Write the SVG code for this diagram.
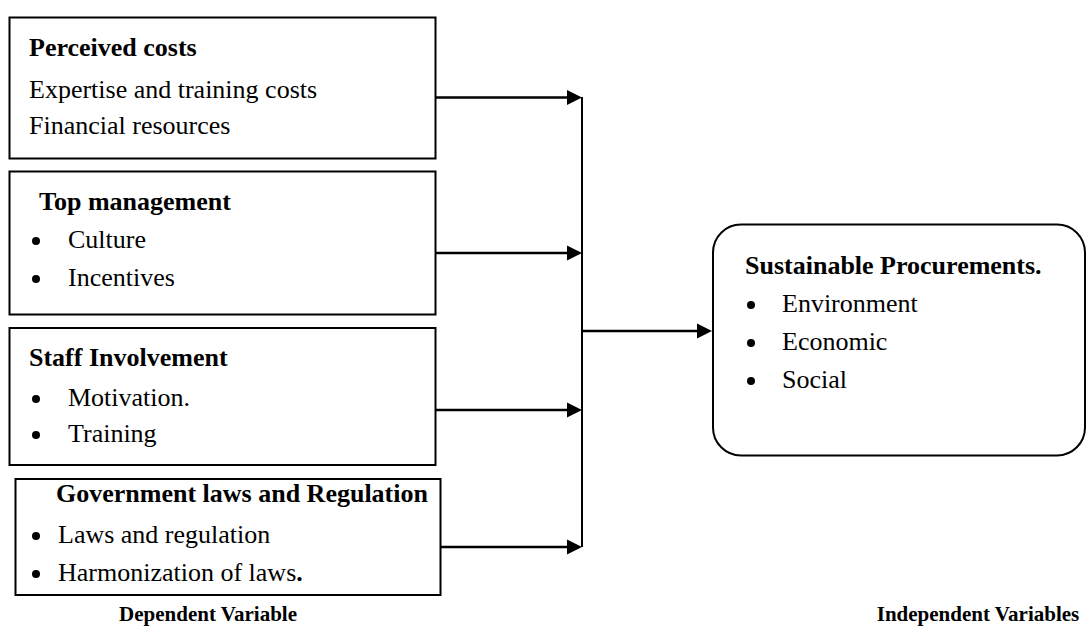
<svg xmlns="http://www.w3.org/2000/svg" width="1087" height="631" viewBox="0 0 1087 631">
<defs>
<style>
.box{fill:#fff;stroke:#000;stroke-width:2}
.t{font-family:"Liberation Serif","Times New Roman",serif;font-size:26px;fill:#000}
.b{font-weight:bold}
.ln{stroke:#000;stroke-width:2.5;fill:none}
.lbl{font-size:21px}
</style>
</defs>
<rect width="1087" height="631" fill="#fff"/>
<g id="connectors">
<line class="ln" x1="436" y1="97.5" x2="568" y2="97.5"/>
<path d="M567,90 L582,97.5 L567,105 z"/>
<line class="ln" x1="436" y1="253" x2="568" y2="253"/>
<path d="M567,245.5 L582,253 L567,260.5 z"/>
<line class="ln" x1="436" y1="410" x2="568" y2="410"/>
<path d="M567,402.5 L582,410 L567,417.5 z"/>
<line class="ln" x1="437" y1="547" x2="568" y2="547"/>
<path d="M567,539.5 L582,547 L567,554.5 z"/>
<line x1="582" y1="97" x2="582" y2="547" stroke="#000" stroke-width="2"/>
<line class="ln" x1="582" y1="331" x2="698" y2="331"/>
<path d="M697,323.5 L712,331 L697,338.5 z"/>
</g>
<g id="perceived-costs">
<rect class="box" x="9.5" y="17.5" width="426" height="141"/>
<text class="t b" x="29" y="56">Perceived costs</text>
<text class="t" x="29" y="98">Expertise and training costs</text>
<text class="t" x="29" y="134">Financial resources</text>
</g>
<g id="top-management">
<rect class="box" x="9.5" y="171.5" width="426" height="143"/>
<text class="t b" x="39" y="210">Top management</text>
<circle cx="36" cy="241" r="4"/>
<text class="t" x="68" y="248">Culture</text>
<circle cx="36" cy="279" r="4"/>
<text class="t" x="68" y="286">Incentives</text>
</g>
<g id="staff-involvement">
<rect class="box" x="9.5" y="328" width="426" height="137"/>
<text class="t b" x="29" y="366">Staff Involvement</text>
<circle cx="36" cy="399" r="4"/>
<text class="t" x="68" y="406">Motivation.</text>
<circle cx="36" cy="435" r="4"/>
<text class="t" x="68" y="442">Training</text>
</g>
<g id="government-laws">
<rect class="box" x="15.5" y="479" width="425" height="116"/>
<text class="t b" x="56" y="502" font-size="25">Government laws and Regulation</text>
<circle cx="36" cy="536" r="4"/>
<text class="t" x="58" y="543">Laws and regulation</text>
<circle cx="36" cy="574" r="4"/>
<text class="t" x="58" y="581">Harmonization of laws<tspan class="b">.</tspan></text>
</g>
<g id="sustainable-procurements">
<rect class="box" x="713" y="224.5" width="372" height="231" rx="28" ry="28"/>
<text class="t b" x="745" y="274">Sustainable Procurements.</text>
<circle cx="751" cy="305" r="4"/>
<text class="t" x="782" y="312">Environment</text>
<circle cx="751" cy="343" r="4"/>
<text class="t" x="782" y="350">Economic</text>
<circle cx="751" cy="381" r="4"/>
<text class="t" x="782" y="388">Social</text>
</g>
<g id="labels">
<text class="t b lbl" x="208" y="621" text-anchor="middle">Dependent Variable</text>
<text class="t b lbl" x="978" y="621" text-anchor="middle">Independent Variables</text>
</g>
</svg>
